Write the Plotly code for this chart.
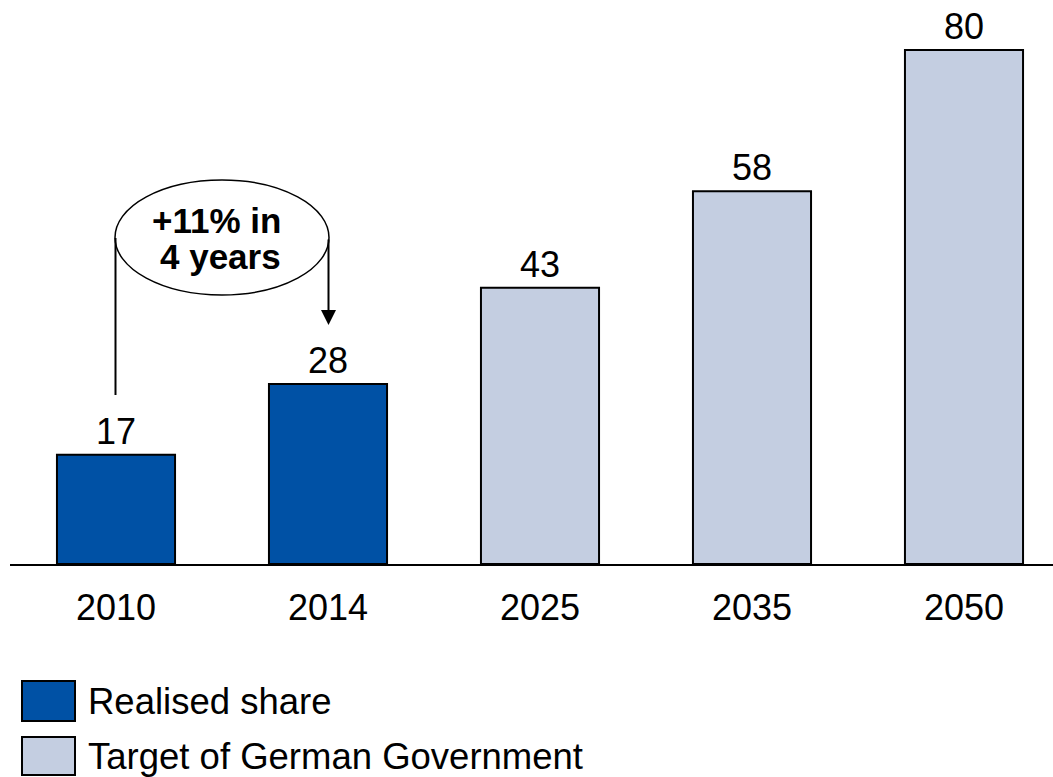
import plotly.graph_objects as go

years = ["2010", "2014", "2025", "2035", "2050"]
realised_years = ["2010", "2014"]
realised_vals = [17, 28]
target_years = ["2025", "2035", "2050"]
target_vals = [43, 58, 80]
legend_labels = ["Realised share", "Target of German Government"]
callout_lines = ["+11% in", "4 years"]

DARK = "#0051A5"
LIGHT = "#C4CEE1"
FONT = "Liberation Sans, Arial, sans-serif"

W, H = 1053, 777
ML, MR, MT, MB = 10, 0, 0, 213
PW, PH = W - ML - MR, H - MT - MB
XR = [-0.5, -0.5 + PW / 212.0]
YR = [0, PH / 6.425]


def px_y(py):
    return YR[0] + (MT + PH - py) / PH * (YR[1] - YR[0])


def px_x(px):
    return XR[0] + (px - ML) / PW * (XR[1] - XR[0])


def paper_x(px):
    return (px - ML) / PW


def paper_y(py):
    return (MT + PH - py) / PH


fig = go.Figure()
fig.add_trace(go.Bar(
    x=realised_years, y=realised_vals, name=legend_labels[0],
    marker=dict(color=DARK, line=dict(color="black", width=2)),
    text=[str(v) for v in realised_vals], textposition="outside",
    textfont=dict(size=36, color="black", family=FONT), cliponaxis=False,
))
fig.add_trace(go.Bar(
    x=target_years, y=target_vals, name=legend_labels[1],
    marker=dict(color=LIGHT, line=dict(color="black", width=2)),
    text=[str(v) for v in target_vals], textposition="outside",
    textfont=dict(size=36, color="black", family=FONT), cliponaxis=False,
))

shapes = []
# callout ellipse spanning bar centres of 2010 and 2014
shapes.append(dict(type="circle", xref="x", yref="y",
                   x0=px_x(115), x1=px_x(329), y0=px_y(295), y1=px_y(180),
                   line=dict(color="black", width=1.5), fillcolor="white"))
# left connector line from 2010
shapes.append(dict(type="line", xref="x", yref="y",
                   x0=px_x(115.5), x1=px_x(115.5), y0=px_y(395), y1=px_y(238),
                   line=dict(color="black", width=2)))

annotations = []
# arrow down to 2014
annotations.append(dict(x=px_x(328.5), y=px_y(325), ax=px_x(328.5), ay=px_y(238),
                        xref="x", yref="y", axref="x", ayref="y", text="",
                        showarrow=True, arrowhead=2, arrowsize=1.5, arrowwidth=2,
                        arrowcolor="black"))
annotations.append(dict(x=px_x(216), y=px_y(220), xref="x", yref="y",
                        text="<b>%s</b>" % callout_lines[0], showarrow=False,
                        font=dict(size=35, color="black", family=FONT)))
annotations.append(dict(x=px_x(220), y=px_y(256), xref="x", yref="y",
                        text="<b>%s</b>" % callout_lines[1], showarrow=False,
                        font=dict(size=35, color="black", family=FONT)))

# manual legend
leg_boxes = [(681, 721, DARK), (737, 775, LIGHT)]
for (t, b, c), lab in zip(leg_boxes, legend_labels):
    shapes.append(dict(type="rect", xref="paper", yref="paper",
                       x0=paper_x(22), x1=paper_x(75), y0=paper_y(b), y1=paper_y(t),
                       fillcolor=c, line=dict(color="black", width=2)))
    annotations.append(dict(x=paper_x(86), y=paper_y((t + b) / 2), xref="paper", yref="paper",
                            xanchor="left", yanchor="middle", text=lab, showarrow=False,
                            font=dict(size=36.5, color="black", family=FONT)))

fig.update_layout(
    width=W, height=H,
    margin=dict(l=ML, r=MR, t=MT, b=MB, pad=0),
    plot_bgcolor="white", paper_bgcolor="white",
    barmode="overlay", bargap=0.443,
    showlegend=False,
    shapes=shapes, annotations=annotations,
    font=dict(family=FONT, color="black"),
)
fig.update_xaxes(
    type="category", categoryorder="array", categoryarray=years,
    range=XR, showgrid=False, zeroline=False,
    showline=True, linecolor="black", linewidth=2,
    ticks="outside", ticklen=11, tickcolor="rgba(0,0,0,0)",
    tickfont=dict(size=36, color="black", family=FONT),
)
fig.update_yaxes(range=YR, visible=False, showgrid=False, zeroline=False)

fig.write_html("out.html")
